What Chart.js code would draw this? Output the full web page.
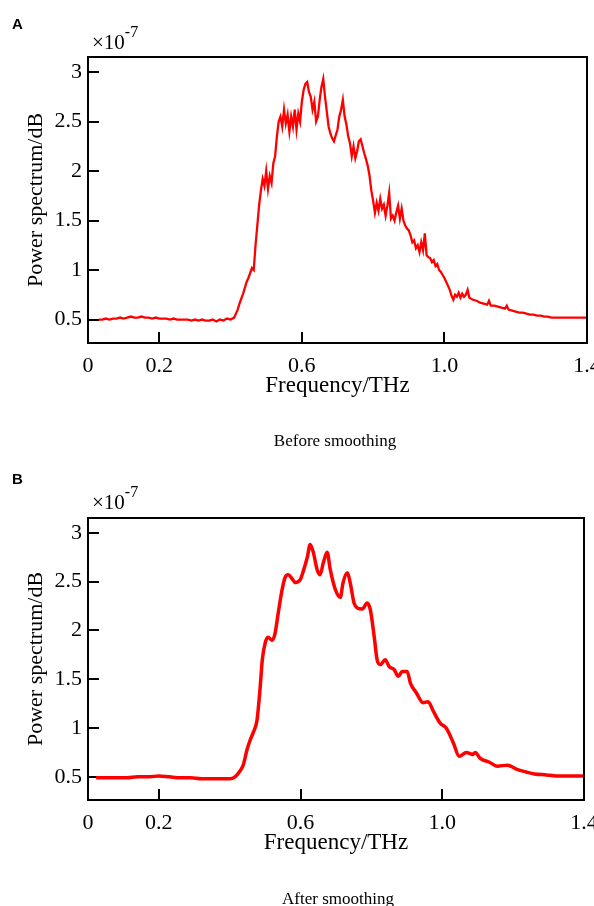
<!DOCTYPE html>
<html lang="en">
<head>
<meta charset="UTF-8">
<title>Power spectrum before and after smoothing</title>
<script src="https://cdn.jsdelivr.net/npm/chart.js"></script>
<style>
    body {
        margin: 0;
        background: #fff;
        font-family: "Liberation Serif", "Times New Roman", serif;
        color: #000;
    }

    #page {
        position: relative;
        width: 594px;
        height: 906px;
        overflow: hidden;
    }

    .panel {
        position: absolute;
        left: 0;
        width: 594px;
        height: 453px;
    }

    .tag {
        position: absolute;
        left: 12px;
        font: bold 15px "Liberation Sans", Arial, sans-serif;
        line-height: 1;
    }

    .mult {
        position: absolute;
        left: 92px;
        font-size: 21px;
        line-height: 1;
        white-space: nowrap;
    }

    .mult span {
        font-size: 16px;
        position: relative;
        top: -12px;
    }

    .caption {
        position: absolute;
        font-size: 17px;
        line-height: 1;
        transform: translateX(-50%);
        white-space: nowrap;
    }
</style>
</head>
<body>
<div id="page">
    <div class="panel" style="top:0"><canvas id="chartBefore"></canvas></div>
    <div class="panel" style="top:453px"><canvas id="chartAfter"></canvas></div>

    <div class="tag" style="top:16px">A</div>
    <div class="mult" style="top:32px">×10<span>-7</span></div>
    <div class="caption" style="left:335px; top:432px">Before smoothing</div>

    <div class="tag" style="top:471px">B</div>
    <div class="mult" style="top:492px">×10<span>-7</span></div>
    <div class="caption" style="left:338px; top:890px">After smoothing</div>
</div>

<script>
    // axis ticks
    const xTicks = [0, 0.2, 0.6, 1.0, 1.4];
    const xTickLabels = ['0', '0.2', '0.6', '1.0', '1.4'];
    const yTicks = [0.5, 1, 1.5, 2, 2.5, 3];
    const yTickLabels = ['0.5', '1', '1.5', '2', '2.5', '3'];

    // A: raw spectrum (x1e-7)
    const freqBefore = [
        0.03, 0.04, 0.05, 0.06, 0.07, 0.08, 0.09, 0.10, 0.11, 0.12, 0.13, 0.14, 0.15, 0.16, 0.17, 0.18, 0.19, 0.20,
        0.21, 0.22, 0.23, 0.24, 0.25, 0.26, 0.27, 0.28, 0.29, 0.30, 0.31, 0.32, 0.33, 0.34, 0.35, 0.36, 0.37, 0.38,
        0.39, 0.40, 0.41, 0.415, 0.42, 0.425, 0.43, 0.435, 0.44, 0.445, 0.45, 0.455, 0.46, 0.465, 0.47, 0.475,
        0.48, 0.485, 0.49, 0.495, 0.50, 0.505, 0.51, 0.515, 0.52, 0.525, 0.53, 0.535, 0.54, 0.545, 0.55, 0.555,
        0.56, 0.565, 0.57, 0.575, 0.58, 0.585, 0.59, 0.595, 0.60, 0.605, 0.61, 0.615, 0.62, 0.625, 0.63, 0.635,
        0.64, 0.645, 0.65, 0.655, 0.66, 0.665, 0.67, 0.675, 0.68, 0.685, 0.69, 0.695, 0.70, 0.705, 0.71, 0.715,
        0.72, 0.725, 0.73, 0.735, 0.74, 0.745, 0.75, 0.755, 0.76, 0.765, 0.77, 0.775, 0.78, 0.785, 0.79, 0.795,
        0.80, 0.805, 0.81, 0.815, 0.82, 0.825, 0.83, 0.835, 0.84, 0.845, 0.85, 0.855, 0.86, 0.865, 0.87, 0.875,
        0.88, 0.885, 0.89, 0.895, 0.90, 0.905, 0.91, 0.915, 0.92, 0.925, 0.93, 0.935, 0.94, 0.945, 0.95, 0.955,
        0.96, 0.965, 0.97, 0.975, 0.98, 0.985, 0.99, 0.995, 1.00, 1.005, 1.01, 1.015, 1.02, 1.025, 1.03, 1.035,
        1.04, 1.045, 1.05, 1.055, 1.06, 1.065, 1.07, 1.08, 1.09, 1.10, 1.11, 1.12, 1.125, 1.13, 1.14, 1.15,
        1.16, 1.17, 1.175, 1.18, 1.19, 1.20, 1.21, 1.22, 1.23, 1.24, 1.25, 1.26, 1.27, 1.28, 1.29, 1.30,
        1.31, 1.32, 1.33, 1.34, 1.35, 1.36, 1.37, 1.38, 1.39, 1.40
    ];
    const powerBefore = [
        0.50, 0.50, 0.51, 0.50, 0.51, 0.51, 0.52, 0.51, 0.52, 0.53, 0.52, 0.52, 0.53, 0.52, 0.52, 0.51, 0.52, 0.51,
        0.51, 0.51, 0.50, 0.51, 0.50, 0.50, 0.50, 0.50, 0.49, 0.50, 0.49, 0.50, 0.49, 0.49, 0.50, 0.48, 0.50, 0.49,
        0.51, 0.50, 0.52, 0.56, 0.60, 0.66, 0.71, 0.76, 0.82, 0.88, 0.92, 0.97, 1.02, 1.00, 1.25, 1.45,
        1.65, 1.80, 1.92, 1.85, 2.00, 1.82, 1.95, 1.88, 2.08, 2.15, 2.35, 2.50, 2.55, 2.45, 2.62, 2.48,
        2.57, 2.40, 2.55, 2.45, 2.62, 2.42, 2.58, 2.50, 2.70, 2.82, 2.88, 2.90, 2.80, 2.75, 2.62, 2.70,
        2.50, 2.55, 2.72, 2.85, 2.93, 2.75, 2.60, 2.45, 2.38, 2.33, 2.30, 2.36, 2.42, 2.55, 2.62, 2.72,
        2.55, 2.47, 2.35, 2.28, 2.15, 2.25, 2.13, 2.20, 2.30, 2.32, 2.25, 2.18, 2.12, 2.05, 1.95, 1.80,
        1.70, 1.58, 1.68, 1.60, 1.72, 1.62, 1.66, 1.55, 1.65, 1.78, 1.52, 1.55, 1.50, 1.58, 1.65, 1.52,
        1.62, 1.50, 1.45, 1.42, 1.40, 1.35, 1.28, 1.30, 1.22, 1.25, 1.18, 1.28, 1.20, 1.37, 1.15, 1.13,
        1.12, 1.08, 1.10, 1.04, 1.06, 1.00, 0.98, 0.95, 0.92, 0.88, 0.84, 0.80, 0.74, 0.70, 0.75, 0.73,
        0.77, 0.72, 0.76, 0.73, 0.75, 0.80, 0.72, 0.70, 0.69, 0.67, 0.66, 0.65, 0.69, 0.64, 0.64, 0.63,
        0.62, 0.61, 0.64, 0.60, 0.59, 0.58, 0.57, 0.57, 0.56, 0.55, 0.55, 0.54, 0.54, 0.53, 0.53, 0.52,
        0.52, 0.52, 0.52, 0.52, 0.52, 0.52, 0.52, 0.52, 0.52, 0.52
    ];

    // B: smoothed spectrum (x1e-7)
    const freqAfter = [
        0.023, 0.05, 0.08, 0.11, 0.14, 0.17, 0.20, 0.23, 0.26, 0.29, 0.32, 0.35, 0.38, 0.40, 0.415, 0.429,
        0.438, 0.449, 0.458, 0.466, 0.477, 0.486, 0.492, 0.500, 0.508, 0.520, 0.528, 0.537, 0.548, 0.556,
        0.565, 0.576, 0.585, 0.599, 0.607, 0.619, 0.627, 0.636, 0.647, 0.655, 0.664, 0.675, 0.684, 0.698,
        0.712, 0.720, 0.732, 0.740, 0.751, 0.760, 0.774, 0.788, 0.797, 0.808, 0.816, 0.825, 0.839, 0.850,
        0.864, 0.876, 0.887, 0.901, 0.910, 0.927, 0.946, 0.960, 0.975, 0.994, 1.011, 1.031, 1.048, 1.068,
        1.085, 1.093, 1.107, 1.133, 1.155, 1.184, 1.209, 1.237, 1.260, 1.294, 1.322, 1.379, 1.400
    ];
    const powerAfter = [
        0.49, 0.49, 0.49, 0.49, 0.50, 0.50, 0.51, 0.50, 0.49, 0.49, 0.48, 0.48, 0.48, 0.48, 0.50, 0.56,
        0.62, 0.78, 0.88, 0.95, 1.08, 1.42, 1.70, 1.87, 1.93, 1.90, 1.97, 2.18, 2.42, 2.54,
        2.57, 2.53, 2.49, 2.52, 2.60, 2.75, 2.88, 2.80, 2.62, 2.57, 2.69, 2.80, 2.62, 2.42,
        2.34, 2.49, 2.59, 2.49, 2.28, 2.23, 2.22, 2.28, 2.21, 1.93, 1.70, 1.65, 1.70, 1.63,
        1.60, 1.53, 1.58, 1.58, 1.46, 1.36, 1.26, 1.27, 1.17, 1.05, 1.00, 0.85, 0.71, 0.75,
        0.73, 0.75, 0.69, 0.65, 0.61, 0.62, 0.58, 0.55, 0.53, 0.52, 0.51, 0.51, 0.51
    ];

    const serif = 'Liberation Serif';

    // top and right edges of the box
    const frameBox = {
        id: 'frameBox',
        afterDraw(chart) {
            const { ctx, chartArea: a } = chart;
            ctx.save();
            ctx.strokeStyle = '#000';
            ctx.lineWidth = 2;
            ctx.beginPath();
            ctx.moveTo(a.left, a.top);
            ctx.lineTo(a.right, a.top);
            ctx.lineTo(a.right, a.bottom);
            ctx.stroke();
            ctx.restore();
        }
    };

    function drawPanel(canvasId, freq, power, cfg) {
        new Chart(document.getElementById(canvasId), {
            type: 'line',
            data: {
                datasets: [{
                    data: freq.map((f, i) => ({ x: f, y: power[i] })),
                    borderColor: '#ff0000',
                    borderWidth: cfg.lineWidth,
                    pointRadius: 0,
                    tension: cfg.smooth ? 0.4 : 0,
                    cubicInterpolationMode: cfg.smooth ? 'monotone' : 'default',
                    fill: false
                }]
            },
            options: {
                responsive: true,
                maintainAspectRatio: false,
                animation: false,
                layout: { padding: cfg.padding },
                plugins: {
                    legend: { display: false },
                    tooltip: { enabled: false }
                },
                scales: {
                    x: {
                        type: 'linear',
                        min: 0,
                        max: 1.4,
                        afterBuildTicks: s => { s.ticks = xTicks.map(v => ({ value: v })); },
                        afterFit: s => { s.height = 60; s.paddingLeft = 0; s.paddingRight = 0; },
                        ticks: {
                            autoSkip: false,
                            maxRotation: 0,
                            padding: 21,
                            color: '#000',
                            font: { family: serif, size: 22 },
                            callback: (v, i) => xTickLabels[i]
                        },
                        grid: { drawOnChartArea: false, tickLength: -11, color: '#000', lineWidth: 2 },
                        border: { color: '#000', width: 2 },
                        title: {
                            display: true,
                            text: 'Frequency/THz',
                            color: '#000',
                            font: { family: serif, size: 23 },
                            padding: { top: 0, bottom: 3 }
                        }
                    },
                    y: {
                        type: 'linear',
                        min: 0.263,
                        max: 3.152,
                        afterBuildTicks: s => { s.ticks = yTicks.map(v => ({ value: v })); },
                        afterFit: s => { s.width = 88; s.paddingTop = 0; s.paddingBottom = 0; },
                        ticks: {
                            autoSkip: false,
                            padding: 17,
                            color: '#000',
                            font: { family: serif, size: 22 },
                            callback: (v, i) => yTickLabels[i]
                        },
                        grid: { drawOnChartArea: false, tickLength: -11, color: '#000', lineWidth: 2 },
                        border: { color: '#000', width: 2 },
                        title: {
                            display: true,
                            text: 'Power spectrum/dB',
                            color: '#000',
                            font: { family: serif, size: 22 },
                            padding: { top: 23, bottom: 0 }
                        }
                    }
                }
            },
            plugins: [frameBox]
        });
    }

    drawPanel('chartBefore', freqBefore, powerBefore, {
        lineWidth: 2.3,
        smooth: false,
        padding: { top: 57, right: 7, bottom: 50, left: 0 }
    });

    drawPanel('chartAfter', freqAfter, powerAfter, {
        lineWidth: 3.5,
        smooth: true,
        padding: { top: 65, right: 10, bottom: 46, left: 0 }
    });
</script>
</body>
</html>
